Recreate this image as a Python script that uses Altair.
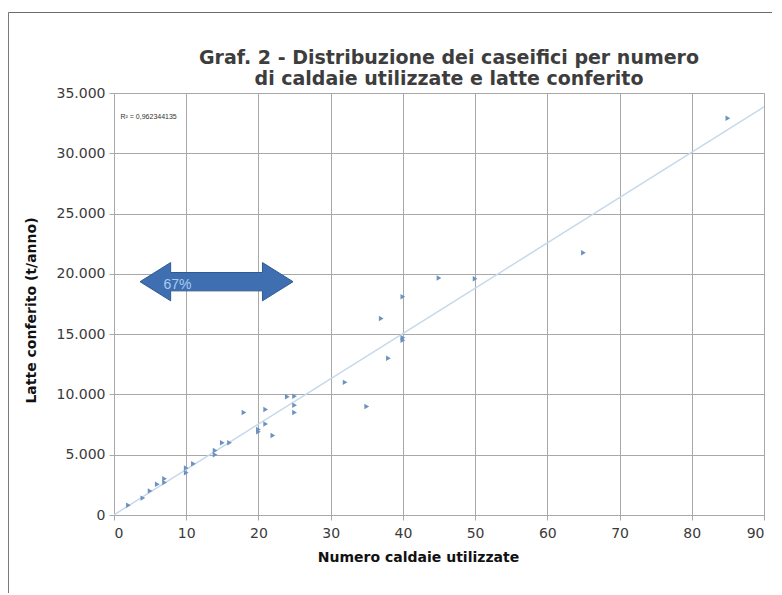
import altair as alt
import pandas as pd

# Data
caldaie = [2, 4, 5, 6, 7, 7, 10, 10, 11, 14, 14, 15, 16, 18, 20, 20, 21, 21, 22,
           24, 25, 25, 25, 32, 35, 37, 38, 40, 40, 40, 45, 50, 65, 85]
latte = [800, 1400, 2000, 2550, 2700, 3000, 3500, 3900, 4250, 5000, 5350, 6000, 6000,
         8500, 7100, 6900, 8750, 7550, 6600, 9800, 9850, 9100, 8500, 11000, 9000,
         16300, 13000, 18100, 14700, 14500, 19650, 19600, 21750, 32900]
x_ticks = [0, 10, 20, 30, 40, 50, 60, 70, 80, 90]
y_ticks = [0, 5000, 10000, 15000, 20000, 25000, 30000, 35000]
r2_text = ["R² = 0,962344135"]
arrow_pos = [14.2, 19350]
arrow_label = ["67%"]
label_pos = [8.8, 19070]

df = pd.DataFrame({"x": caldaie, "y": latte})

W, H = 650, 422
PAD_L, PAD_T = 106, 85

xs = alt.Scale(domain=[0, 90], nice=False, zero=False)
ys = alt.Scale(domain=[0, 35000], nice=False)

label_expr = "replace(format(datum.value, ','), /,/g, '.')"

x_axis = alt.Axis(values=x_ticks, title="Numero caldaie utilizzate", grid=True,
                  titleX=304, titleY=42, titleBaseline="middle",
                  labelPadding=6)
y_axis = alt.Axis(values=y_ticks, title="Latte conferito (t/anno)", grid=True,
                  labelExpr=label_expr, titleX=-83, titleY=217, titleBaseline="middle",
                  labelPadding=4)

base = alt.Chart(df)

trend = base.transform_regression("x", "y", extent=[0, 90]).mark_line(
    color="#c6d9ec", strokeWidth=1.5
).encode(
    x=alt.X("x:Q", scale=xs, axis=x_axis),
    y=alt.Y("y:Q", scale=ys, axis=y_axis),
)

points = base.mark_point(shape="triangle-right", filled=True, size=30,
                         color="#6e92c0", opacity=1).encode(
    x=alt.X("x:Q", scale=xs),
    y=alt.Y("y:Q", scale=ys),
)

r2 = alt.Chart(pd.DataFrame({"x": [0.9], "y": [33000], "t": r2_text})).mark_text(
    align="left", baseline="middle", fontSize=7, color="#333333", font="Liberation Sans"
).encode(x=alt.X("x:Q", scale=xs), y=alt.Y("y:Q", scale=ys), text="t:N")

arrow_path = ("M-1,0 L-0.6,-0.25 L-0.6,-0.12 L0.6,-0.12 L0.6,-0.25 L1,0 "
              "L0.6,0.25 L0.6,0.12 L-0.6,0.12 L-0.6,0.25 Z")
arrow = alt.Chart(pd.DataFrame({"x": [arrow_pos[0]], "y": [arrow_pos[1]]})).mark_point(
    shape=arrow_path, filled=True, size=153 * 153, color="#3f6fb0",
    stroke="#2f5a94", strokeWidth=1, opacity=1
).encode(x=alt.X("x:Q", scale=xs), y=alt.Y("y:Q", scale=ys))

arrow_txt = alt.Chart(pd.DataFrame({"x": [label_pos[0]], "y": [label_pos[1]], "t": arrow_label})).mark_text(
    align="center", baseline="middle", fontSize=14, color="#a9cbee", font="Liberation Sans"
).encode(x=alt.X("x:Q", scale=xs), y=alt.Y("y:Q", scale=ys), text="t:N")

frame_top = alt.Chart(pd.DataFrame({"a": [0]})).mark_rule(color="#6b6b6b", strokeWidth=1.2).encode(
    x=alt.value(-PAD_L + 0.5), x2=alt.value(W + 20), y=alt.value(-PAD_T + 4.5)
)
frame_left = alt.Chart(pd.DataFrame({"a": [0]})).mark_rule(color="#6b6b6b", strokeWidth=1.2).encode(
    x=alt.value(-PAD_L + 0.3), y=alt.value(-PAD_T + 4.5), y2=alt.value(H + 78)
)

chart = alt.layer(trend, points, r2, arrow, arrow_txt, frame_top, frame_left).properties(
    width=W, height=H,
    autosize=alt.AutoSizeParams(type="none"),
    padding={"left": PAD_L, "top": PAD_T, "right": 8, "bottom": 80},
    title=alt.TitleParams(
        text=["Graf. 2 - Distribuzione dei caseifici per numero",
              "di caldaie utilizzate e latte conferito"],
        anchor="middle", dx=10, dy=79, offset=2, fontSize=19, fontWeight="bold",
        font="DejaVu Sans", color="#3d3d3d", lineHeight=21,
    ),
).configure_view(stroke=None).configure_axis(
    gridColor="#a8a8a8", gridWidth=1, domainColor="#a8a8a8", tickColor="#a8a8a8",
    tickSize=5, labelFont="DejaVu Sans", labelFontSize=14, labelColor="#3a3a3a",
    titleFont="DejaVu Sans", titleFontSize=14, titleFontWeight="bold",
    titleColor="#111111",
)

chart.save("out.html", embed_options={"renderer": "svg", "actions": False})
